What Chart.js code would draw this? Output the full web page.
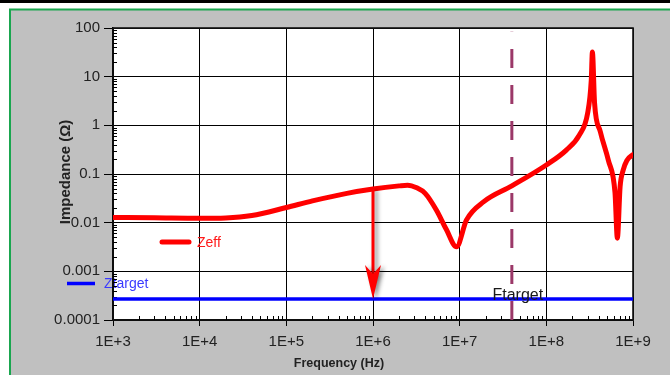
<!DOCTYPE html>
<html>
<head>
<meta charset="utf-8">
<script src="https://cdn.jsdelivr.net/npm/chart.js@4.4.1/dist/chart.umd.min.js"></script>
<style>
  html, body { margin: 0; padding: 0; background: #fff; }
  #wrap { width: 670px; height: 375px; }
</style>
</head>
<body>
<div id="wrap"><canvas id="impChart" width="670" height="375"></canvas></div>
<script>
// Frequency sweep (Hz) and effective impedance (ohm)
const freqHz = [1e3, 3e3, 1e4, 2e4, 4e4, 1e5, 2e5, 5e5, 1e6, 2e6, 2.5e6, 3.2e6, 4e6, 5.4e6, 7e6, 9.2e6,
                1.2e7, 1.9e7, 4e7, 1e8, 1.7e8, 2.4e8, 3e8, 3.3e8, 3.4e8, 3.6e8, 4.2e8, 5.2e8, 6.2e8, 6.6e8,
                7.1e8, 7.7e8, 8.5e8, 1e9];
const zeffOhm = [0.0128, 0.0126, 0.0123, 0.0125, 0.0140, 0.0205, 0.028, 0.040, 0.049, 0.057, 0.059, 0.052, 0.040, 0.018, 0.0073, 0.0032,
                 0.0114, 0.027, 0.057, 0.153, 0.31, 0.63, 1.8, 8.5, 32, 2.9, 0.74, 0.19, 0.041, 0.0048,
                 0.055, 0.12, 0.19, 0.25];

// Target impedance line and target frequency marker
const zTargetOhm = 0.00027;
const zTargetFreq = [1e3, 1e9];
const fTargetHz = 4e7;
const fTargetSpan = [0.0001, 84];
const arrowFreqHz = 1e6;
const arrowFromOhm = 0.049;

// Axis ticks
const xTickValues = [1e3, 1e4, 1e5, 1e6, 1e7, 1e8, 1e9];
const xTickLabels = ['1E+3', '1E+4', '1E+5', '1E+6', '1E+7', '1E+8', '1E+9'];
const yTickValues = [1e-4, 1e-3, 1e-2, 1e-1, 1, 10, 100];
const yTickLabels = ['0.0001', '0.001', '0.01', '0.1', '1', '10', '100'];

const FONT = '"Liberation Sans", Arial, sans-serif';

// Window frame, grey panel and white plot area
const framePlugin = {
    id: 'frame',
    beforeDraw(chart) {
        const ctx = chart.ctx;
        const a = chart.chartArea;
        ctx.save();
        ctx.fillStyle = '#fff';
        ctx.fillRect(0, 0, chart.width, chart.height);
        ctx.fillStyle = '#000';
        ctx.fillRect(0, 0, chart.width, 3);
        ctx.fillStyle = '#c0c0c0';
        ctx.fillRect(10, 10, chart.width - 10, chart.height - 10);
        ctx.strokeStyle = '#1aa64f';
        ctx.lineWidth = 2;
        ctx.beginPath();
        ctx.moveTo(10, chart.height);
        ctx.lineTo(10, 9.5);
        ctx.lineTo(chart.width, 9.5);
        ctx.stroke();
        ctx.fillStyle = '#fff';
        ctx.fillRect(a.left, a.top, a.right - a.left, a.bottom - a.top);

        // Ztarget key, the y axis is drawn over it
        ctx.strokeStyle = '#0000ff';
        ctx.lineWidth = 3.5;
        ctx.beginPath();
        ctx.moveTo(67, 283.5);
        ctx.lineTo(95, 283.5);
        ctx.stroke();
        ctx.fillStyle = '#3a3aff';
        ctx.font = '14px ' + FONT;
        ctx.textAlign = 'left';
        ctx.textBaseline = 'middle';
        ctx.fillText('Ztarget', 104, 284);
        ctx.restore();
    }
};

// Plot outline and small inward minor ticks on the left and bottom axes
const minorTicksPlugin = {
    id: 'minorTicks',
    beforeDatasetsDraw(chart) {
        const ctx = chart.ctx;
        const a = chart.chartArea;
        const xs = chart.scales.x, ys = chart.scales.y;
        ctx.save();
        ctx.strokeStyle = '#111';
        ctx.lineWidth = 1.6;
        ctx.strokeRect(a.left, a.top, a.right - a.left, a.bottom - a.top);
        ctx.strokeStyle = '#000';
        ctx.lineWidth = 1;
        ctx.beginPath();
        for (let d = -4; d < 2; d++) {
            for (let k = 2; k <= 9; k++) {
                const py = Math.round(ys.getPixelForValue(k * Math.pow(10, d))) + 0.5;
                ctx.moveTo(a.left, py);
                ctx.lineTo(a.left + 4, py);
            }
        }
        for (let d = 3; d < 9; d++) {
            for (let k = 2; k <= 9; k++) {
                const px = Math.round(xs.getPixelForValue(k * Math.pow(10, d))) + 0.5;
                ctx.moveTo(px, a.bottom);
                ctx.lineTo(px, a.bottom - 4);
            }
        }
        ctx.stroke();
        ctx.restore();
    }
};

// Labels, arrow and axis titles
const notesPlugin = {
    id: 'notes',
    afterDatasetsDraw(chart) {
        const ctx = chart.ctx;
        const xs = chart.scales.x, ys = chart.scales.y;
        ctx.save();

        // arrow from Zeff at 1 MHz down to Ztarget
        const ax = xs.getPixelForValue(arrowFreqHz);
        const ay0 = ys.getPixelForValue(arrowFromOhm);
        const ay1 = ys.getPixelForValue(zTargetOhm);
        ctx.shadowColor = 'rgba(0,0,0,0.45)';
        ctx.shadowBlur = 4;
        ctx.shadowOffsetX = 3;
        ctx.shadowOffsetY = 1;
        ctx.strokeStyle = '#f00';
        ctx.fillStyle = '#f00';
        ctx.lineWidth = 3;
        ctx.beginPath();
        ctx.moveTo(ax, ay0);
        ctx.lineTo(ax, ay1 - 20);
        ctx.stroke();
        ctx.beginPath();
        ctx.moveTo(ax - 8, ay1 - 34);
        ctx.lineTo(ax, ay1 - 25);
        ctx.lineTo(ax + 8, ay1 - 34);
        ctx.lineTo(ax, ay1);
        ctx.closePath();
        ctx.fill();
        ctx.restore();

        ctx.save();
        // Ftarget label
        ctx.fillStyle = '#1a1a1a';
        ctx.font = '16px ' + FONT;
        ctx.textAlign = 'center';
        ctx.textBaseline = 'alphabetic';
        ctx.fillText('Ftarget', xs.getPixelForValue(fTargetHz) + 6, 300);

        // Zeff key
        ctx.lineCap = 'round';
        ctx.strokeStyle = '#f00';
        ctx.lineWidth = 5;
        ctx.beginPath();
        ctx.moveTo(162, 242);
        ctx.lineTo(189, 242);
        ctx.stroke();
        ctx.fillStyle = '#ff1a1a';
        ctx.font = '14px ' + FONT;
        ctx.textAlign = 'left';
        ctx.textBaseline = 'middle';
        ctx.fillText('Zeff', 197, 243);
        ctx.restore();
    },
    afterDraw(chart) {
        const ctx = chart.ctx;
        ctx.save();
        // axis titles
        ctx.fillStyle = '#222';
        ctx.textAlign = 'center';
        ctx.textBaseline = 'middle';
        ctx.font = 'bold 12.5px ' + FONT;
        ctx.fillText('Frequency (Hz)', 339, 364);
        ctx.translate(66, 172);
        ctx.rotate(-Math.PI / 2);
        ctx.font = 'bold 15px ' + FONT;
        ctx.fillText('Impedance (\u03A9)', 0, 0);
        ctx.restore();
    }
};

new Chart(document.getElementById('impChart'), {
    type: 'line',
    data: {
        datasets: [
            {
                label: 'Zeff',
                data: freqHz.map((f, i) => ({ x: f, y: zeffOhm[i] })),
                borderColor: '#ff0000',
                borderWidth: 5,
                pointRadius: 0,
                cubicInterpolationMode: 'monotone',
                borderCapStyle: 'round',
                borderJoinStyle: 'round'
            },
            {
                label: 'Ztarget',
                data: zTargetFreq.map(f => ({ x: f, y: zTargetOhm })),
                borderColor: '#0000ff',
                borderWidth: 3.5,
                pointRadius: 0
            },
            {
                label: 'Ftarget',
                data: fTargetSpan.map(z => ({ x: fTargetHz, y: z })),
                borderColor: '#9b3868',
                borderWidth: 3,
                borderDash: [19, 17],
                pointRadius: 0
            }
        ]
    },
    options: {
        responsive: false,
        animation: false,
        devicePixelRatio: 1,
        layout: { padding: { left: 0, top: 28, right: 37, bottom: 0 } },
        plugins: {
            legend: { display: false },
            tooltip: { enabled: false }
        },
        scales: {
            x: {
                type: 'logarithmic',
                min: 1e3,
                max: 1e9,
                afterBuildTicks: s => { s.ticks = xTickValues.map(v => ({ value: v })); },
                afterFit: s => { s.height = 55; },
                ticks: {
                    callback: (v, i) => xTickLabels[i],
                    color: '#222',
                    font: { family: FONT, size: 15 },
                    padding: 7,
                    maxRotation: 0,
                    autoSkip: false
                },
                grid: { color: '#000', lineWidth: 1, tickLength: 6, tickColor: '#000' },
                border: { color: '#000', width: 1.5 }
            },
            y: {
                type: 'logarithmic',
                min: 1e-4,
                max: 100,
                afterBuildTicks: s => { s.ticks = yTickValues.map(v => ({ value: v })); },
                afterFit: s => { s.width = 113; },
                ticks: {
                    callback: (v, i) => yTickLabels[i],
                    color: '#222',
                    font: { family: FONT, size: 15 },
                    padding: 4,
                    autoSkip: false
                },
                grid: { color: '#000', lineWidth: 1, tickLength: 9, tickColor: '#000' },
                border: { color: '#000', width: 1.5 }
            }
        }
    },
    plugins: [framePlugin, minorTicksPlugin, notesPlugin]
});
</script>
</body>
</html>
